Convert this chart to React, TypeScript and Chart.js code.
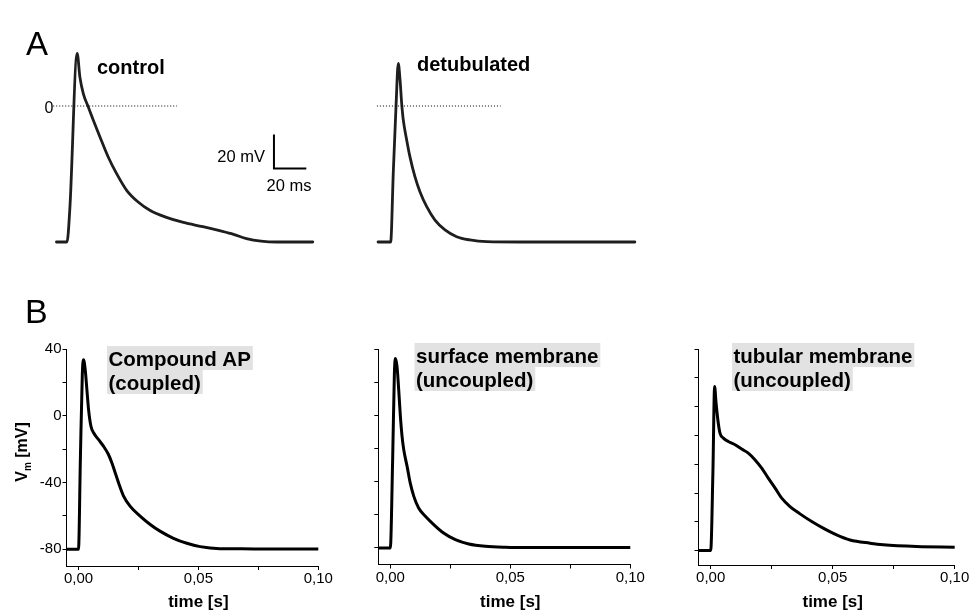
import React, { useEffect, useRef } from 'react';
import { Chart, registerables } from 'chart.js';

Chart.register(...registerables);

const FONT = '"Liberation Sans", Arial, Helvetica, sans-serif';

// ---------- Panel A (time in ms, voltage in mV) ----------
const controlT = [-6.5, 0, 1.8, 6.3, 8.0, 10.1, 13.2, 16.3, 20.4, 25.5, 30.7, 36.9, 44, 51.5, 61.5, 72, 84, 95, 103, 111, 120, 130, 152];
const controlV = [-80, -80, -60, 31, 17, 7.3, -0.6, -8.4, -18.2, -30, -39.8, -49.6, -56.5, -61.5, -65.5, -68.5, -71, -73.5, -75.5, -78, -79.5, -80, -80];

const detubT = [-7.8, 0, 1.6, 3.3, 4.7, 5.8, 6.8, 7.8, 9.9, 11.9, 15, 18.1, 22.3, 27.4, 33.6, 40.8, 49, 59.4, 80, 151];
const detubV = [-80, -80, -39.6, -0.4, 25.1, 15.3, 1.6, -8.2, -20, -29.8, -41.6, -50.4, -59.2, -67.1, -72.9, -76.9, -78.8, -79.8, -80, -80];

const zeroLineT = [-8.5, 68];
const zeroLineV = [0, 0];

const scaleBarT = [128, 128, 148];
const scaleBarV = [-16.8, -36.8, -36.8];

// ---------- Panel B (time in s, voltage in mV) ----------
const compoundT = [-0.005, 0, 0.0008, 0.0016, 0.0021, 0.0028, 0.0035, 0.0042, 0.0052, 0.0063, 0.0083, 0.0104, 0.0125, 0.0139, 0.0153, 0.0167, 0.0188, 0.0215, 0.0257, 0.0299, 0.034, 0.0396, 0.0452, 0.0507, 0.059, 0.068, 0.08, 0.1];
const compoundV = [-80, -80, -25, 25, 33.6, 27.6, 15.7, 3.7, -6.3, -10.2, -14.2, -18.2, -23.2, -28.2, -34.1, -40.1, -48.1, -54.1, -60.1, -65.1, -69.1, -73.4, -76.4, -78.4, -79.6, -79.7, -79.8, -79.8];

const surfaceT = [-0.005, 0, 0.001, 0.0017, 0.0021, 0.0028, 0.0035, 0.0042, 0.0049, 0.0056, 0.007, 0.0083, 0.0098, 0.0118, 0.0146, 0.0181, 0.0222, 0.0271, 0.0327, 0.0396, 0.0479, 0.059, 0.075, 0.1];
const surfaceV = [-80, -80, -25, 25, 34.2, 29.5, 15.5, -0.6, -12.7, -20.7, -30.8, -40.8, -48.9, -55.9, -60.9, -65.9, -71, -75, -77.6, -79, -79.6, -79.8, -79.8, -79.8];

const tubularT = [-0.005, 0, 0.0009, 0.0016, 0.0022, 0.0031, 0.0038, 0.0052, 0.0072, 0.01, 0.0127, 0.0154, 0.0182, 0.0209, 0.0236, 0.0264, 0.0291, 0.0325, 0.0366, 0.0414, 0.0461, 0.0516, 0.0571, 0.0653, 0.0707, 0.0844, 0.1];
const tubularV = [-80, -80, -26, 34, 22.5, 8.6, 1.6, -1.9, -4.2, -6.5, -9.5, -12.3, -17, -22.7, -29.7, -36.6, -43.6, -49.4, -54.5, -59.8, -64.4, -69.1, -72.6, -74.9, -76, -77.2, -77.6];

const xTickValues = [0, 0.025, 0.05, 0.075, 0.1];
const xTickLabels = ['0,00', '', '0,05', '', '0,10'];

const yTickValuesB12 = [40, 20, 0, -20, -40, -60, -80];
const yTickLabelsB1 = ['40', '', '0', '', '-40', '', '-80'];
const yTickValuesB3 = [60, 40, 20, 0, -20, -40, -60, -80];

type TextItem = {
  text: string; x: number; y: number; font: string;
  align?: 'left' | 'right' | 'center'; bg?: string; kind?: 'vm' | 'xtitle'; value?: number; sx?: number;
};

type Box = { l: number; t: number; r: number; b: number };
type Cv = { left: number; top: number; w: number; h: number };

function overlayPlugin(items: TextItem[], cv: Cv) {
  return {
    id: 'overlay',
    afterDraw(chart: any) {
      const ctx = chart.ctx as CanvasRenderingContext2D;
      ctx.save();
      ctx.fillStyle = '#000';
      for (const it of items) {
        let x = it.x - cv.left;
        const y = it.y - cv.top;
        if (it.kind === 'xtitle') {
          x = chart.scales.x.getPixelForValue(it.value);
        }
        if (it.kind === 'vm') {
          ctx.save();
          ctx.translate(x, y);
          ctx.rotate(-Math.PI / 2);
          const big = `bold 16px ${FONT}`;
          const small = `bold 10px ${FONT}`;
          ctx.font = big;
          const wV = ctx.measureText('V').width;
          const wRest = ctx.measureText(' [mV]').width;
          ctx.font = small;
          const wm = ctx.measureText('m').width;
          const total = wV + wm + wRest;
          const x0 = -total / 2;
          ctx.textAlign = 'left';
          ctx.textBaseline = 'alphabetic';
          ctx.fillStyle = '#000';
          ctx.font = big;
          ctx.fillText('V', x0, 5.5);
          ctx.font = small;
          ctx.fillText('m', x0 + wV, 9.5);
          ctx.font = big;
          ctx.fillText(' [mV]', x0 + wV + wm, 5.5);
          ctx.restore();
          continue;
        }
        ctx.font = it.font;
        ctx.textBaseline = 'alphabetic';
        ctx.textAlign = it.align || 'left';
        if (it.bg) {
          const w = ctx.measureText(it.text).width;
          ctx.fillStyle = it.bg;
          ctx.fillRect(x - 1.5, y - 20, w + 3.5, 24);
          ctx.fillStyle = '#000';
        }
        if (it.sx) {
          ctx.save();
          ctx.translate(x, y);
          ctx.scale(it.sx, 1);
          ctx.fillText(it.text, 0, 0);
          ctx.restore();
        } else {
          ctx.fillText(it.text, x, y);
        }
      }
      ctx.restore();
    },
  };
}

function tracePanelConfig(opts: {
  series: { t: number[]; v: number[]; width: number; color: string; dash?: number[]; smooth: boolean }[];
  xMin: number; xMax: number; yMin: number; yMax: number;
  area: Box; cv: Cv; axes: boolean;
  yTicks?: number[]; yLabels?: string[]; texts: TextItem[];
}) {
  const { area, cv } = opts;
  const yAxisW = area.l - cv.left;
  const xAxisH = cv.top + cv.h - area.b;
  const padding = opts.axes
    ? { left: 0, top: area.t - cv.top, right: cv.left + cv.w - area.r, bottom: 0 }
    : { left: area.l - cv.left, top: area.t - cv.top, right: cv.left + cv.w - area.r, bottom: cv.top + cv.h - area.b };

  const datasets = opts.series.map((s) => ({
    data: s.t.map((x, i) => ({ x, y: s.v[i] })),
    borderColor: s.color,
    borderWidth: s.width,
    borderDash: s.dash || [],
    pointRadius: 0,
    fill: false,
    tension: 0,
    cubicInterpolationMode: s.smooth ? 'monotone' : 'default',
    borderJoinStyle: s.smooth ? 'round' : 'miter',
    borderCapStyle: s.smooth ? 'round' : 'butt',
  }));

  const gridCommon = { display: true, drawOnChartArea: false, drawTicks: true, tickLength: 4, color: '#000', tickColor: '#000', lineWidth: 1 };
  const yTicks = opts.yTicks || [];
  const yLabels = opts.yLabels || yTicks.map(() => '');

  const scales: any = opts.axes
    ? {
        x: {
          type: 'linear', min: opts.xMin, max: opts.xMax,
          afterBuildTicks: (s: any) => { s.ticks = xTickValues.map((value) => ({ value })); },
          afterFit: (s: any) => { s.height = xAxisH; s.paddingLeft = 0; s.paddingRight = 0; s.paddingTop = 0; s.paddingBottom = 0; },
          ticks: { callback: (_v: any, i: number) => xTickLabels[i], font: { family: FONT, size: 15 }, color: '#000', padding: 0, maxRotation: 0, minRotation: 0, autoSkip: false },
          grid: gridCommon,
          border: { display: true, color: '#000', width: 1 },
        },
        y: {
          type: 'linear', min: opts.yMin, max: opts.yMax,
          afterBuildTicks: (s: any) => { s.ticks = yTicks.map((value) => ({ value })); },
          afterFit: (s: any) => { s.width = yAxisW; s.paddingLeft = 0; s.paddingRight = 0; s.paddingTop = 0; s.paddingBottom = 0; },
          ticks: { callback: (_v: any, i: number) => yLabels[i], font: { family: FONT, size: 15 }, color: '#000', padding: 1, autoSkip: false },
          grid: gridCommon,
          border: { display: true, color: '#000', width: 1 },
        },
      }
    : {
        x: { type: 'linear', min: opts.xMin, max: opts.xMax, display: false },
        y: { type: 'linear', min: opts.yMin, max: opts.yMax, display: false },
      };

  return {
    type: 'line',
    data: { datasets },
    options: {
      responsive: false,
      animation: false,
      devicePixelRatio: 1,
      events: [],
      layout: { padding },
      plugins: { legend: { display: false }, tooltip: { enabled: false } },
      scales,
    },
    plugins: [overlayPlugin(opts.texts, cv)],
  } as any;
}

function ChartCanvas({ cv, config }: { cv: Cv; config: () => any }) {
  const ref = useRef<HTMLCanvasElement | null>(null);
  useEffect(() => {
    if (!ref.current) return;
    const chart = new Chart(ref.current, config());
    return () => chart.destroy();
  }, []);
  return (
    <canvas
      ref={ref}
      width={cv.w}
      height={cv.h}
      style={{ position: 'absolute', left: cv.left, top: cv.top, width: cv.w, height: cv.h }}
    />
  );
}

const GREY = '#e2e2e2';

const cvA1: Cv = { left: 0, top: 0, w: 345, h: 290 };
const cvA2: Cv = { left: 345, top: 0, w: 320, h: 290 };
const cvB1: Cv = { left: 0, top: 290, w: 345, h: 325 };
const cvB2: Cv = { left: 345, top: 290, w: 315, h: 325 };
const cvB3: Cv = { left: 660, top: 290, w: 313, h: 325 };

const configA1 = () => tracePanelConfig({
  series: [
    { t: zeroLineT, v: zeroLineV, width: 1, color: '#000', dash: [1, 2], smooth: false },
    { t: scaleBarT, v: scaleBarV, width: 2, color: '#000', smooth: false },
    { t: controlT, v: controlV, width: 2.8, color: '#1e1e1e', smooth: true },
  ],
  xMin: -10, xMax: 160, yMin: -90, yMax: 40,
  area: { l: 50.8, t: 38, r: 325.7, b: 259 }, cv: cvA1, axes: false,
  texts: [
    { text: 'A', x: 26, y: 55, font: `33px ${FONT}` },
    { text: 'control', x: 97, y: 73.5, font: `bold 20px ${FONT}` },
    { text: '0', x: 53.5, y: 113, font: `16px ${FONT}`, align: 'right' },
    { text: '20 mV', x: 265, y: 161.5, font: `16.5px ${FONT}`, align: 'right' },
    { text: '20 ms', x: 266.5, y: 191, font: `16.5px ${FONT}` },
  ],
});

const configA2 = () => tracePanelConfig({
  series: [
    { t: zeroLineT, v: zeroLineV, width: 1, color: '#000', dash: [1, 2], smooth: false },
    { t: detubT, v: detubV, width: 2.8, color: '#1e1e1e', smooth: true },
  ],
  xMin: -10, xMax: 160, yMin: -90, yMax: 40,
  area: { l: 374.5, t: 38, r: 649.4, b: 259 }, cv: cvA2, axes: false,
  texts: [
    { text: 'detubulated', x: 417, y: 71, font: `bold 20px ${FONT}` },
  ],
});

const xTitle = (): TextItem => ({ text: 'time [s]', x: 0, y: 607, font: `bold 17px ${FONT}`, align: 'center', kind: 'xtitle', value: 0.05 });

const configB1 = () => tracePanelConfig({
  series: [{ t: compoundT, v: compoundV, width: 3, color: '#000', smooth: true }],
  xMin: -0.005, xMax: 0.1, yMin: -90, yMax: 40,
  area: { l: 66.5, t: 349, r: 318.3, b: 566 }, cv: cvB1, axes: true,
  yTicks: yTickValuesB12, yLabels: yTickLabelsB1,
  texts: [
    { text: 'B', x: 25, y: 323, font: `34px ${FONT}` },
    { text: 'Compound AP', x: 108.5, y: 366, font: `bold 20.5px ${FONT}`, bg: GREY },
    { text: '(coupled)', x: 108.5, y: 390, font: `bold 20.5px ${FONT}`, bg: GREY },
    { text: '', x: 21, y: 452, font: '', kind: 'vm' },
    xTitle(),
  ],
});

const configB2 = () => tracePanelConfig({
  series: [{ t: surfaceT, v: surfaceV, width: 3, color: '#000', smooth: true }],
  xMin: -0.005, xMax: 0.1, yMin: -90, yMax: 40,
  area: { l: 378.3, t: 349, r: 630.3, b: 564.5 }, cv: cvB2, axes: true,
  yTicks: yTickValuesB12,
  texts: [
    { text: 'surface membrane', x: 416, y: 363, font: `bold 20.5px ${FONT}`, bg: GREY },
    { text: '(uncoupled)', x: 416, y: 387, font: `bold 20.5px ${FONT}`, bg: GREY },
    xTitle(),
  ],
});

const configB3 = () => tracePanelConfig({
  series: [{ t: tubularT, v: tubularV, width: 3, color: '#000', smooth: true }],
  xMin: -0.005, xMax: 0.1, yMin: -90, yMax: 60,
  area: { l: 698.5, t: 349, r: 954.7, b: 565 }, cv: cvB3, axes: true,
  yTicks: yTickValuesB3,
  texts: [
    { text: 'tubular membrane', x: 733.5, y: 363, font: `bold 20.5px ${FONT}`, bg: GREY },
    { text: '(uncoupled)', x: 733.5, y: 387, font: `bold 20.5px ${FONT}`, bg: GREY },
    xTitle(),
  ],
});

export default function App() {
  return (
    <div style={{ position: 'absolute', left: 0, top: 0, width: 973, height: 615, background: '#fff', overflow: 'hidden' }}>
      <ChartCanvas cv={cvA1} config={configA1} />
      <ChartCanvas cv={cvA2} config={configA2} />
      <ChartCanvas cv={cvB1} config={configB1} />
      <ChartCanvas cv={cvB2} config={configB2} />
      <ChartCanvas cv={cvB3} config={configB3} />
    </div>
  );
}
